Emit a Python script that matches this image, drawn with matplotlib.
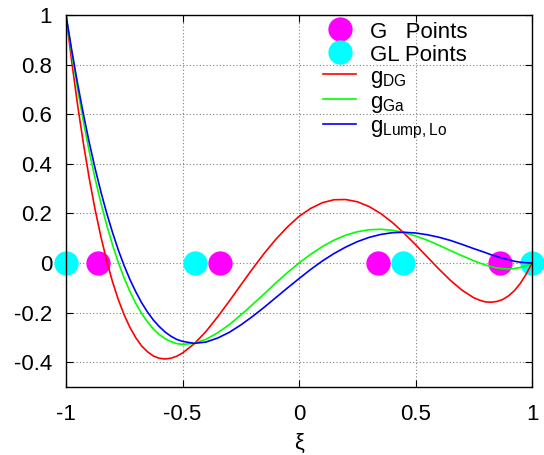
import matplotlib.pyplot as plt
import numpy as np

plt.rcParams['font.family'] = ['Liberation Sans', 'DejaVu Sans']
plt.rcParams['mathtext.fontset'] = 'custom'
plt.rcParams['mathtext.rm'] = 'Liberation Sans'
plt.rcParams['mathtext.it'] = 'Liberation Sans:italic'

# sample abscissae and curve values
xi = [-1.000, -0.975, -0.950, -0.925, -0.900, -0.875, -0.850, -0.825, -0.800, -0.775,
      -0.750, -0.725, -0.700, -0.675, -0.650, -0.625, -0.600, -0.575, -0.550, -0.525,
      -0.50, -0.45, -0.40, -0.35, -0.30, -0.25, -0.20, -0.15, -0.10, -0.05,
      0.00, 0.05, 0.10, 0.15, 0.20, 0.25, 0.30, 0.35, 0.40, 0.45,
      0.50, 0.55, 0.60, 0.65, 0.70,
      0.750, 0.775, 0.800, 0.825, 0.850, 0.875, 0.900, 0.925, 0.950, 0.975, 1.000]
g_dg = [1.0, 0.809, 0.636, 0.480, 0.340, 0.215, 0.105, 0.008, -0.077, -0.149,
        -0.210, -0.261, -0.302, -0.335, -0.358, -0.375, -0.384, -0.387, -0.384, -0.376,
        -0.363, -0.326, -0.277, -0.218, -0.155, -0.089, -0.024, 0.038, 0.095, 0.145,
        0.188, 0.220, 0.243, 0.255, 0.256, 0.247, 0.228, 0.200, 0.164, 0.121,
        0.074, 0.025, -0.024, -0.070, -0.110,
        -0.140, -0.150, -0.157, -0.158, -0.155, -0.147, -0.132, -0.111, -0.082, -0.045, 0.0]
g_ga = [1.0, 0.844, 0.700, 0.569, 0.449, 0.340, 0.241, 0.152, 0.072, 0.001,
        -0.062, -0.116, -0.164, -0.204, -0.238, -0.266, -0.288, -0.305, -0.317, -0.325,
        -0.328, -0.324, -0.308, -0.282, -0.249, -0.210, -0.168, -0.125, -0.081, -0.039,
        0.0, 0.035, 0.066, 0.092, 0.112, 0.126, 0.134, 0.136, 0.132, 0.123,
        0.109, 0.092, 0.072, 0.050, 0.029,
        0.009, 0.000, -0.008, -0.015, -0.020, -0.023, -0.024, -0.022, -0.018, -0.011, 0.0]
g_lump = [1.0, 0.856, 0.722, 0.599, 0.485, 0.381, 0.286, 0.200, 0.122, 0.051,
          -0.012, -0.068, -0.117, -0.161, -0.198, -0.230, -0.256, -0.278, -0.295, -0.308,
          -0.316, -0.324, -0.319, -0.303, -0.280, -0.250, -0.216, -0.179, -0.140, -0.101,
          -0.063, -0.026, 0.008, 0.038, 0.064, 0.086, 0.103, 0.115, 0.122, 0.124,
          0.121, 0.114, 0.104, 0.091, 0.075,
          0.058, 0.050, 0.042, 0.033, 0.026, 0.019, 0.013, 0.007, 0.003, 0.001, 0.0]

g_points = [-0.861136, -0.339981, 0.339981, 0.861136]
gl_points = [-1.0, -0.447214, 0.447214, 1.0]

fig = plt.figure(figsize=(5.44, 4.55), dpi=100)
ax = fig.add_axes([66/544, 1 - 387/455, 466/544, 372/455])

ax.plot(g_points, np.zeros(len(g_points)), 'o', color='#ff00ff', ms=17.5,
        mec='none', clip_on=False, label='G   Points', zorder=2)
ax.plot(gl_points, np.zeros(len(gl_points)), 'o', color='#00ffff', ms=17.5,
        mec='none', clip_on=False, label='GL Points', zorder=2)
ax.plot(xi, g_dg, color='#ff0000', lw=1.2, label=r'g$_{\rm DG}$', zorder=3)
ax.plot(xi, g_ga, color='#00ff00', lw=1.2, label=r'g$_{\rm Ga}$', zorder=3)
ax.plot(xi, g_lump, color='#0000ff', lw=1.2, label=r'g$_{\rm Lump,Lo}$', zorder=3)

ax.set_xlim(-1, 1)
ax.set_ylim(-0.5, 1)
ax.set_xticks([-1, -0.5, 0, 0.5, 1])
ax.set_xticklabels(['-1', '-0.5', '0', '0.5', '1'])
ax.set_yticks([-0.4, -0.2, 0, 0.2, 0.4, 0.6, 0.8, 1])
ax.set_yticklabels(['-0.4', '-0.2', '0', '0.2', '0.4', '0.6', '0.8', '1'])
ax.tick_params(direction='in', top=True, right=True, labelsize=16,
               length=5, width=0.8)
ax.tick_params(axis='y', pad=10)
ax.tick_params(axis='x', pad=12)
ax.grid(True, linestyle=(0, (1, 2)), color='#808080', lw=0.8)
for s in ax.spines.values():
    s.set_linewidth(1.0)
    s.set_zorder(5)

ax.set_xlabel('ξ', fontsize=16, labelpad=6)

ax.legend(loc='upper left', bbox_to_anchor=(0.5515, 0.985), frameon=False,
          fontsize=16, handlelength=1.5, handleheight=1.0, handletextpad=0.6,
          labelspacing=0.0, borderaxespad=0.0, borderpad=0.0, markerscale=1.0)

fig.savefig('out.png', dpi=100)
